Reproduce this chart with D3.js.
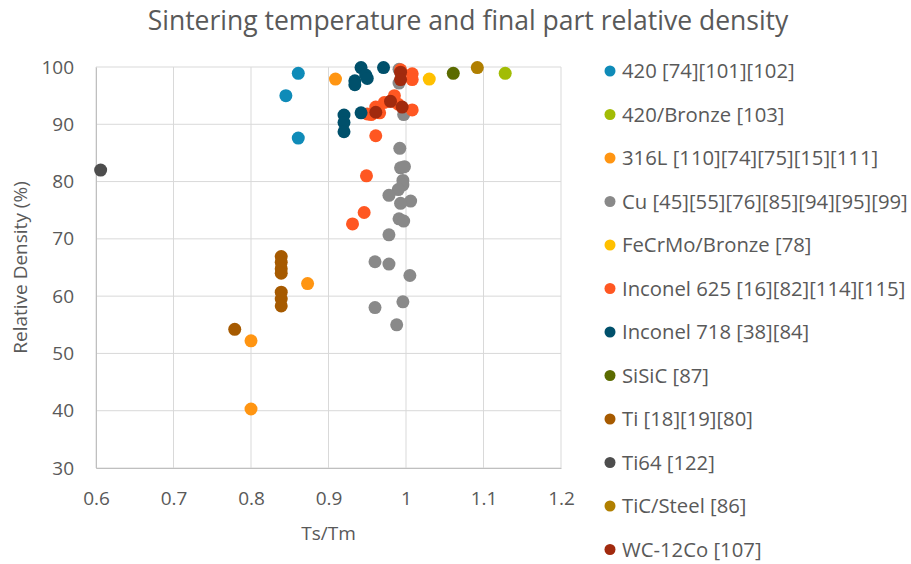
<!DOCTYPE html>
<html>
<head>
<meta charset="utf-8">
<script src="https://cdn.jsdelivr.net/npm/d3@7"></script>
<style>
  body { margin: 0; background: #fff; }
  text { font-family: "Open Sans", sans-serif; fill: #595959; }
</style>
</head>
<body>
<svg id="chart" width="911" height="564"></svg>
<script>
// series names, in legend order
const seriesNames = ['420 [74][101][102]', '420/Bronze [103]', '316L [110][74][75][15][111]',
  'Cu [45][55][76][85][94][95][99]', 'FeCrMo/Bronze [78]', 'Inconel 625 [16][82][114][115]',
  'Inconel 718 [38][84]', 'SiSiC [87]', 'Ti [18][19][80]', 'Ti64 [122]', 'TiC/Steel [86]', 'WC-12Co [107]'];
const seriesColors = ['#0F8BB8', '#A2BC05', '#FF9512', '#898989', '#FFC000', '#FF5722',
  '#00506B', '#5B6B00', '#A65A00', '#4D4D4D', '#B07F00', '#A12A0E'];

// [Ts/Tm, relative density %]
const s420 = [[0.861, 98.9], [0.845, 95], [0.861, 87.6]];
const s420Bronze = [[1.128, 98.9]];
const s316L = [[0.909, 97.9], [0.873, 62.2], [0.8, 52.2], [0.8, 40.3]];
const sCu = [[0.991, 99.6], [0.991, 97.2], [0.997, 91.7], [0.992, 85.8], [0.993, 82.4], [0.998, 82.6],
  [0.996, 80.2], [0.996, 79.4], [0.990, 78.6], [0.978, 77.6], [1.006, 76.6], [0.993, 76.2],
  [0.991, 73.5], [0.997, 73.1], [0.978, 70.7], [0.960, 66], [0.978, 65.6], [1.005, 63.6],
  [0.996, 59], [0.960, 58], [0.988, 55]];
const sFeCrMo = [[1.030, 97.9]];
const sInconel625 = [[1.008, 98.8], [1.008, 97.8], [0.993, 99.5], [0.985, 95], [0.980, 94],
  [0.972, 93.8], [0.990, 93.5], [0.961, 93], [0.966, 92], [0.950, 91.8], [0.955, 91.7],
  [1.008, 92.5], [0.961, 88], [0.949, 81], [0.946, 74.6], [0.931, 72.6]];
const sInconel718 = [[0.942, 99.9], [0.971, 99.9], [0.948, 98.6], [0.950, 98], [0.934, 97.6],
  [0.934, 96.9], [0.942, 92], [0.920, 91.6], [0.920, 90.3], [0.920, 88.7]];
const sSiSiC = [[1.061, 98.9]];
const sTi = [[0.839, 66.9], [0.839, 65.9], [0.839, 64.8], [0.839, 64], [0.839, 60.7],
  [0.839, 59.5], [0.839, 58.3], [0.779, 54.2]];
const sTi64 = [[0.606, 82]];
const sTiCSteel = [[1.092, 99.9]];
const sWC12Co = [[0.993, 99.1], [0.993, 97.8], [0.980, 94], [0.995, 93], [0.961, 92.1]];

const allSeries = [s420, s420Bronze, s316L, sCu, sFeCrMo, sInconel625, sInconel718,
  sSiSiC, sTi, sTi64, sTiCSteel, sWC12Co];

const xTicks = [0.6, 0.7, 0.8, 0.9, 1, 1.1, 1.2];
const yTicks = [30, 40, 50, 60, 70, 80, 90, 100];

const svg = d3.select('#chart');

let xScale = d3.scaleLinear().domain([0.6, 1.2]).range([96, 561]);
let yScale = d3.scaleLinear().domain([30, 100]).range([468, 67]);

// gridlines
svg.append('g')
  .selectAll('line.vgrid')
  .data(xTicks)
  .enter()
  .append('line')
  .attr('x1', d => xScale(d)).attr('x2', d => xScale(d))
  .attr('y1', yScale(30)).attr('y2', yScale(100))
  .attr('stroke', '#D9D9D9').attr('stroke-width', 1);
svg.append('g')
  .selectAll('line.hgrid')
  .data(yTicks)
  .enter()
  .append('line')
  .attr('x1', xScale(0.6)).attr('x2', xScale(1.2))
  .attr('y1', d => yScale(d)).attr('y2', d => yScale(d))
  .attr('stroke', '#D9D9D9').attr('stroke-width', 1);

// axes
let xAxis = d3.axisBottom(xScale).tickValues(xTicks).tickSize(0).tickPadding(24)
  .tickFormat(d => d3.format('')(d));
svg.append('g')
  .attr('transform', 'translate(0,' + yScale(30) + ')')
  .call(xAxis)
  .call(g => g.select('.domain').attr('stroke', '#BFBFBF'))
  .call(g => g.selectAll('text').style('font-size', '19px').attr('fill', '#595959'));

let yAxis = d3.axisLeft(yScale).tickValues(yTicks).tickSize(0).tickPadding(22);
svg.append('g')
  .attr('transform', 'translate(' + xScale(0.6) + ',0)')
  .call(yAxis)
  .call(g => g.select('.domain').attr('stroke', '#BFBFBF'))
  .call(g => g.selectAll('text').style('font-size', '19px').attr('fill', '#595959'));

// points
allSeries.forEach(function (pts, i) {
  svg.append('g')
    .selectAll('circle')
    .data(pts)
    .enter()
    .append('circle')
    .attr('cx', d => xScale(d[0]))
    .attr('cy', d => yScale(d[1]))
    .attr('r', 6.5)
    .attr('fill', seriesColors[i]);
});

// titles
svg.append('text')
  .attr('x', 468).attr('y', 30)
  .attr('text-anchor', 'middle')
  .style('font-size', '26.5px')
  .text('Sintering temperature and final part relative density');

svg.append('text')
  .attr('x', (xScale(0.6) + xScale(1.2)) / 2).attr('y', 540)
  .attr('text-anchor', 'middle')
  .style('font-size', '19px')
  .text('Ts/Tm');

svg.append('text')
  .attr('transform', 'translate(27,' + (yScale(30) + yScale(100)) / 2 + ') rotate(-90)')
  .attr('text-anchor', 'middle')
  .style('font-size', '19px')
  .text('Relative Density (%)');

// legend
let legend = svg.append('g')
  .selectAll('g')
  .data(seriesNames)
  .enter()
  .append('g')
  .attr('transform', (d, i) => 'translate(610,' + (71 + i * 43.5) + ')');
legend.append('circle')
  .attr('r', 5.5)
  .attr('fill', (d, i) => seriesColors[i]);
legend.append('text')
  .attr('x', 12).attr('y', 7)
  .style('font-size', '20.3px')
  .text(d => d);
</script>
</body>
</html>
